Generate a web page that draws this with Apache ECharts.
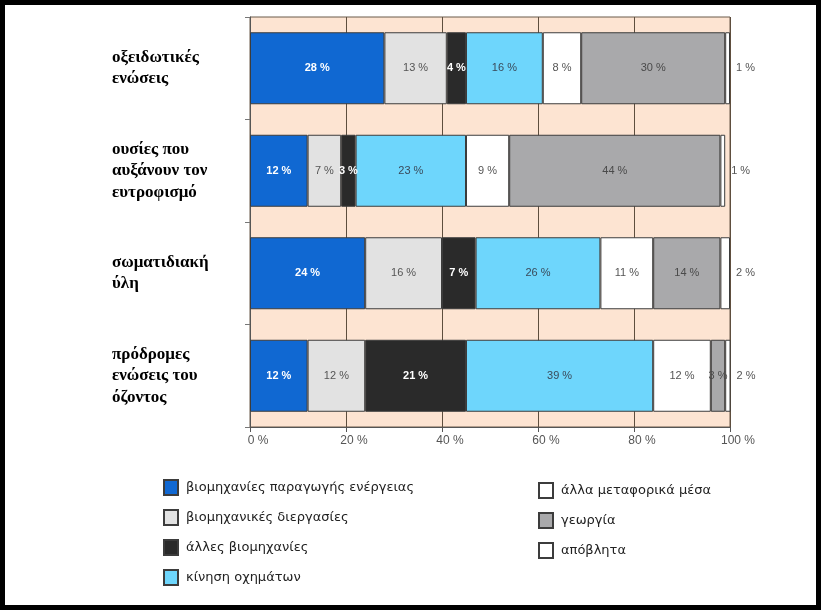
<!DOCTYPE html>
<html>
<head>
<meta charset="utf-8">
<script src="https://cdn.jsdelivr.net/npm/echarts@6/dist/echarts.min.js"></script>
<style>
html,body{margin:0;padding:0;background:#fff;}
#chart{width:821px;height:610px;}
#frame{position:absolute;left:0;top:0;width:821px;height:610px;box-sizing:border-box;border:5px solid #000;pointer-events:none;}
</style>
</head>
<body>
<div id="chart"></div>
<div id="frame"></div>
<script>
const categories = ['οξειδωτικές\nενώσεις', 'ουσίες που\nαυξάνουν τον\nευτροφισμό', 'σωματιδιακή\nύλη', 'πρόδρομες\nενώσεις του\nόζοντος'];
const seriesNames = ['βιομηχανίες παραγωγής ενέργειας', 'βιομηχανικές διεργασίες', 'άλλες βιομηχανίες', 'κίνηση οχημάτων', 'άλλα μεταφορικά μέσα', 'γεωργία', 'απόβλητα'];
const energy = [28, 12, 24, 12];
const industrialProc = [13, 7, 16, 12];
const otherIndustry = [4, 3, 7, 21];
const vehicles = [16, 23, 26, 39];
const otherTransport = [8, 9, 11, 12];
const agriculture = [30, 44, 14, 3];
const waste = [1, 1, 2, 2];
const xTicks = [0, 20, 40, 60, 80, 100];

const values = [energy, industrialProc, otherIndustry, vehicles, otherTransport, agriculture, waste];
const colors = ['#1068d2', '#e2e2e2', '#2a2a2a', '#6ed6fc', '#ffffff', '#a9a9ab', '#ffffff'];
const labelColors = ['#ffffff', '#555555', '#ffffff', '#3a4a5a', '#555555', '#4a4a4a', '#555555'];
const labelBold = [true, false, true, false, false, false, false];

const chart = echarts.init(document.getElementById('chart'));
const series = values.map((v, i) => ({
  name: seriesNames[i],
  type: 'bar',
  stack: 'total',
  barWidth: 72,
  data: v,
  itemStyle: { color: colors[i], borderColor: '#3c3c3c', borderWidth: 1 },
  label: {
    show: true,
    position: i === 6 ? 'right' : 'inside',
    distance: 6,
    formatter: '{c} %',
    color: labelColors[i],
    fontWeight: labelBold[i] ? 'bold' : 'normal',
    fontSize: 11,
    fontFamily: "'Liberation Sans Narrow', 'Liberation Sans', Arial, sans-serif"
  }
}));

const legendText = { fontSize: 13, color: '#222', fontFamily: "'DejaVu Sans', Verdana, sans-serif", padding: [0, 0, 0, 3] };

chart.setOption({
  animation: false,
  backgroundColor: '#ffffff',
  grid: {
    left: 250, right: 91, top: 17, bottom: 183,
    show: true, backgroundColor: '#fde4d2', borderColor: '#6a5a4a', borderWidth: 1
  },
  xAxis: {
    type: 'value', min: xTicks[0], max: xTicks[xTicks.length - 1], interval: 20,
    axisLine: { show: true, lineStyle: { color: '#555' } },
    axisTick: { show: true, length: 5, lineStyle: { color: '#555' } },
    splitLine: { show: true, lineStyle: { color: '#5e4e3e', width: 1 } },
    axisLabel: { formatter: '{value} %', color: '#555', fontSize: 12, margin: 8, padding: [0, 0, 0, 16],
      fontFamily: "'Liberation Sans', Arial, sans-serif" }
  },
  yAxis: {
    type: 'category', inverse: true, data: categories,
    axisLine: { show: true, lineStyle: { color: '#555' } },
    axisTick: { show: true, length: 5, lineStyle: { color: '#777' } },
    axisLabel: {
      align: 'left', margin: 138, color: '#000', fontSize: 17, fontWeight: 'bold', lineHeight: 21.5,
      fontFamily: "'Liberation Serif', 'DejaVu Serif', serif"
    }
  },
  legend: [
    {
      data: seriesNames.slice(0, 4), orient: 'vertical', left: 158, top: 474,
      itemWidth: 14, itemHeight: 15, itemGap: 13, icon: 'rect',
      textStyle: legendText
    },
    {
      data: seriesNames.slice(4), orient: 'vertical', left: 533, top: 477,
      itemWidth: 14, itemHeight: 15, itemGap: 13, icon: 'rect',
      textStyle: legendText
    }
  ],
  series: series
});
</script>
</body>
</html>
